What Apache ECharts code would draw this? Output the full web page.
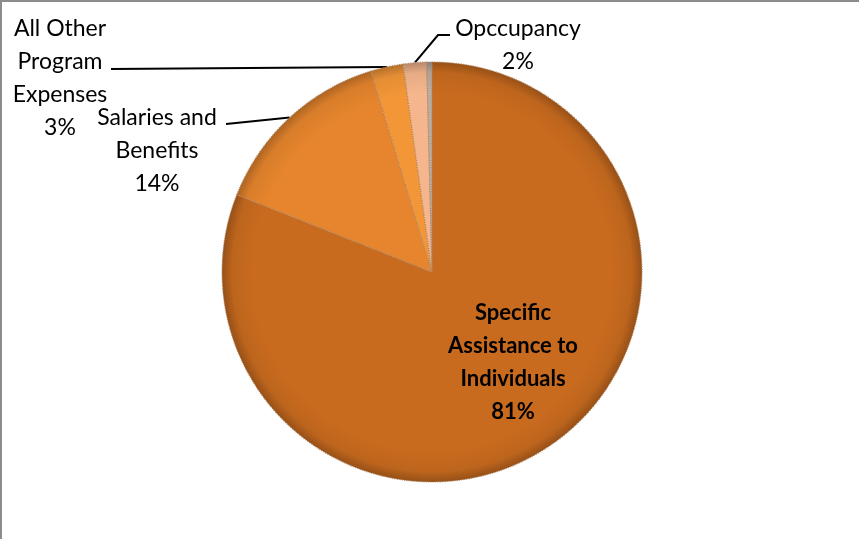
<!DOCTYPE html>
<html>
<head>
<meta charset="utf-8">
<script src="https://cdn.jsdelivr.net/npm/echarts@6/dist/echarts.min.js"></script>
<style>
html,body{margin:0;padding:0;background:#fff;overflow:hidden;}
#chart{position:absolute;left:0;top:0;width:859px;height:539px;}
#frame{position:absolute;left:0;top:0;width:900px;height:600px;border-top:2px solid #8c8c8c;border-left:2px solid #8c8c8c;pointer-events:none;}
</style>
</head>
<body>
<div id="chart"></div>
<div id="frame"></div>
<script>
// ---- data ----
const categories = ['Specific Assistance to Individuals', 'Salaries and Benefits', 'All Other Program Expenses', 'Opccupancy', ''];
const labelNames = ['Specific\nAssistance to\nIndividuals', 'Salaries and\nBenefits', 'All Other\nProgram\nExpenses', 'Opccupancy', ''];
const values = [81, 14.3, 2.5, 1.8, 0.4];
const percentLabels = ['81%', '14%', '3%', '2%', ''];

// ---- styles / layout ----
const colors = ['#C96B1F', '#E6852D', '#F39637', '#F6B68D', '#B9ACA0'];
const labelAnchor = [[513, 362], [157, 151], [60, 78], [518, 45], null];
const cx = 432, cy = 272, R = 210;

function shade(hex, f) {
  const n = parseInt(hex.slice(1), 16);
  let r = (n >> 16) & 255, g = (n >> 8) & 255, b = n & 255;
  const t = f < 0 ? 0 : 255, p = Math.abs(f);
  r = Math.round((t - r) * p + r); g = Math.round((t - g) * p + g); b = Math.round((t - b) * p + b);
  return 'rgb(' + r + ',' + g + ',' + b + ')';
}

const chart = echarts.init(document.getElementById('chart'), null, {renderer: 'canvas'});

const data = categories.map((c, i) => ({
  name: c,
  value: values[i],
  itemStyle: {
    color: new echarts.graphic.RadialGradient(cx, cy, R, [
      {offset: 0, color: shade(colors[i], 0.0)},
      {offset: 0.85, color: colors[i]},
      {offset: 0.95, color: shade(colors[i], -0.06)},
      {offset: 1, color: shade(colors[i], -0.25)}
    ], true)
  },
  label: i === 0 ? {
    show: true, position: 'inside', fontWeight: 'bold', fontSize: 22
  } : (i === 4 ? {show: false} : {show: true, position: 'outside'}),
  labelLine: {show: i >= 1 && i <= 3}
}));

chart.setOption({
  backgroundColor: '#ffffff',
  animation: false,
  series: [{
    type: 'pie',
    center: [cx, cy],
    radius: R,
    startAngle: 90,
    clockwise: true,
    avoidLabelOverlap: false,
    data: data,
    itemStyle: {borderColor: 'rgba(170,130,95,0.85)', borderWidth: 1.2, borderType: 'dotted'},
    emphasis: {disabled: true},
    label: {
      fontFamily: 'Lato, "Open Sans", sans-serif',
      fontSize: 23,
      lineHeight: 33,
      color: '#000',
      align: 'center',
      formatter: p => labelNames[p.dataIndex] + '\n' + percentLabels[p.dataIndex]
    },
    labelLine: {lineStyle: {color: '#000', width: 2}},
    labelLayout: function (params) {
      const i = params.dataIndex;
      const a = labelAnchor[i];
      if (!a) return {};
      const edge = params.labelLinePoints ? params.labelLinePoints[0] : null;
      let pts;
      if (edge) {
        if (i === 1) pts = [edge, [226, 124], [226, 124]];
        else if (i === 2) pts = [edge, [111, 69], [111, 69]];
        else if (i === 3) pts = [edge, [438, 35], [450, 35]];
      }
      const r = {x: a[0], y: a[1], align: 'center', verticalAlign: 'middle'};
      if (pts) r.labelLinePoints = pts;
      return r;
    }
  }]
});
</script>
</body>
</html>
